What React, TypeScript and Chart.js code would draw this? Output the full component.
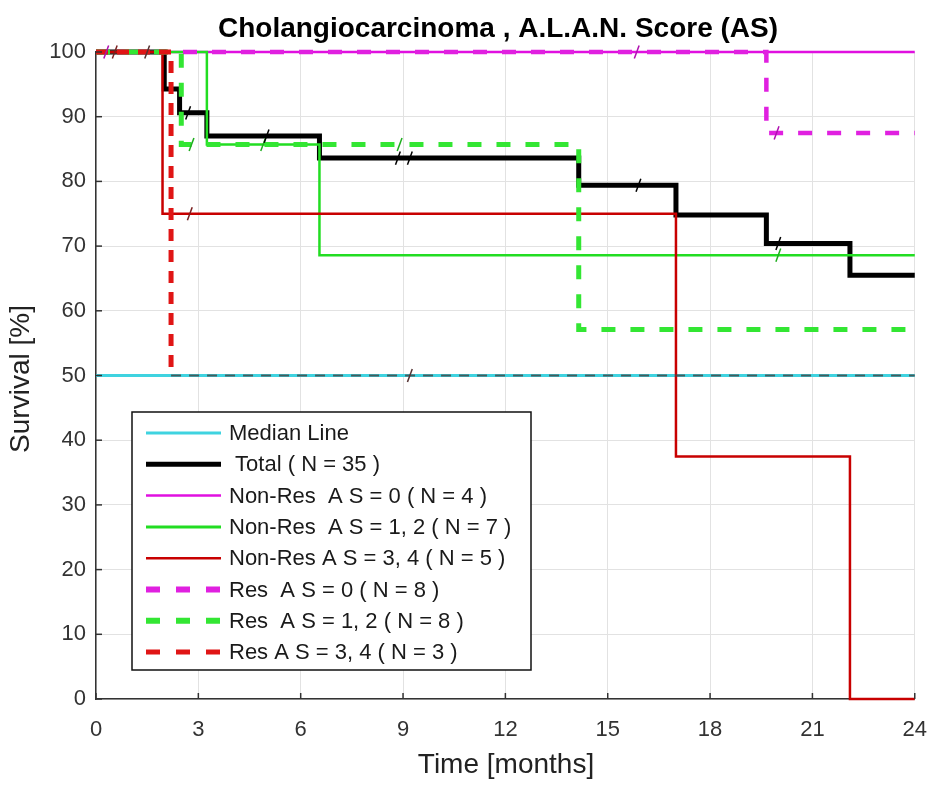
import { useEffect, useRef } from "react"
import { Chart, registerables } from "chart.js"

Chart.register(...registerables)

// Kaplan-Meier step curves: time (months) where survival changes, and the survival (%) from that time on
const medianTimes = [0, 24]
const medianSurv = [50, 50]

const totalTimes = [0, 2.0, 2.45, 3.25, 6.55, 14.15, 17.0, 19.65, 22.1, 24]
const totalSurv = [100, 94.3, 90.6, 87.0, 83.6, 79.4, 74.8, 70.4, 65.5, 65.5]

const nonRes0Times = [0, 24]
const nonRes0Surv = [100, 100]

const nonRes12Times = [0, 3.25, 6.55, 24]
const nonRes12Surv = [100, 85.7, 68.6, 68.6]

const nonRes34Times = [0, 1.95, 17.0, 22.1, 24]
const nonRes34Surv = [100, 75, 37.5, 0, 0]

const res0Times = [0, 19.65, 24]
const res0Surv = [100, 87.5, 87.5]

const res12Times = [0, 2.5, 14.15, 24]
const res12Surv = [100, 85.7, 57.1, 57.1]

const res34Times = [0, 2.2, 24]
const res34Surv = [100, 50, 50]

// censored observations (months)
const totalCensor = [2.7, 5.0, 8.85, 9.2, 15.9, 20.0]
const res0Censor = [0.3, 15.85, 19.95]
const res12Censor = [2.8, 4.9, 8.9]
const nonRes12Censor = [20.0]
const nonRes34Censor = [0.55, 2.75]
const res34Censor = [1.5, 9.2]

const xTicks = [0, 3, 6, 9, 12, 15, 18, 21, 24]
const yTicks = [0, 10, 20, 30, 40, 50, 60, 70, 80, 90, 100]

const legendLabels = [
  "Median Line",
  " Total ( N = 35 )",
  "Non-Res  A S = 0 ( N = 4 )",
  "Non-Res  A S = 1, 2 ( N = 7 )",
  "Non-Res A S = 3, 4 ( N = 5 )",
  "Res  A S = 0 ( N = 8 )",
  "Res  A S = 1, 2 ( N = 8 )",
  "Res A S = 3, 4 ( N = 3 )",
]

const FONT = "'Liberation Sans', Arial, Helvetica, sans-serif"

const toPoints = (t: number[], s: number[]) => t.map((x, i) => ({ x, y: s[i] }))

const survivalAt = (t: number[], s: number[], at: number) => {
  let v = s[0]
  for (let i = 0; i < t.length; i++) if (t[i] <= at) v = s[i]
  return v
}

const censorPoints = (c: number[], t: number[], s: number[]) =>
  c.map((x) => ({ x, y: survivalAt(t, s, x) }))

const styles = [
  { color: "#3fd3e0", width: 3, dash: [] as number[], legendWidth: 3 },
  { color: "#000000", width: 5, dash: [], legendWidth: 5 },
  { color: "#e010e0", width: 2.5, dash: [], legendWidth: 2.5 },
  { color: "#22dd22", width: 2.5, dash: [], legendWidth: 3 },
  { color: "#c80000", width: 2.5, dash: [], legendWidth: 2.5 },
  { color: "#e020e0", width: 4.5, dash: [14, 15], legendWidth: 6 },
  { color: "#33e633", width: 5, dash: [14, 15], legendWidth: 6 },
  { color: "#e01515", width: 5, dash: [12, 9], legendWidth: 5 },
]

export default function App() {
  const chartRef = useRef<HTMLCanvasElement>(null)
  const chartInstance = useRef<Chart | null>(null)

  useEffect(() => {
    document.body.style.margin = "0"
    if (!chartRef.current) return
    if (chartInstance.current) chartInstance.current.destroy()
    const ctx = chartRef.current.getContext("2d")
    if (!ctx) return

    const curves = [
      toPoints(medianTimes, medianSurv),
      toPoints(totalTimes, totalSurv),
      toPoints(nonRes0Times, nonRes0Surv),
      toPoints(nonRes12Times, nonRes12Surv),
      toPoints(nonRes34Times, nonRes34Surv),
      toPoints(res0Times, res0Surv),
      toPoints(res12Times, res12Surv),
      toPoints(res34Times, res34Surv),
    ]
    const stepOrder = [9, 8, 7, 6, 5, 4, 3, 2]

    const isFlat50 = (c: any) => c.p0.parsed.y === 50 && c.p1.parsed.y === 50

    const lineSets: any[] = curves.map((data, i) => ({
      label: legendLabels[i],
      data,
      stepped: "before",
      borderColor: styles[i].color,
      borderWidth: styles[i].width,
      borderDash: styles[i].dash,
      pointRadius: 0,
      fill: false,
      clip: false,
      order: stepOrder[i],
      segment:
        i === 7
          ? {
              // the dashed red and the cyan median overlap: looks dark grey
              borderColor: (c: any) => (isFlat50(c) ? "rgba(70,70,70,0.85)" : undefined),
              borderWidth: (c: any) => (isFlat50(c) ? 2 : undefined),
              borderDash: (c: any) => (isFlat50(c) ? [10, 8] : undefined),
            }
          : undefined,
    }))

    const censorSets: any[] = [
      { c: totalCensor, t: totalTimes, s: totalSurv, color: "#000" },
      { c: res0Censor, t: res0Times, s: res0Surv, color: "#b010b0" },
      { c: res12Censor, t: res12Times, s: res12Surv, color: "#1fae1f" },
      { c: nonRes12Censor, t: nonRes12Times, s: nonRes12Surv, color: "#1fae1f" },
      { c: nonRes34Censor, t: nonRes34Times, s: nonRes34Surv, color: "#7a2020" },
      { c: res34Censor, t: res34Times, s: res34Surv, color: "#553333" },
    ].map((d) => ({
      label: "censor",
      data: censorPoints(d.c, d.t, d.s),
      showLine: false,
      pointStyle: "line",
      rotation: -70,
      pointRadius: 7,
      pointBorderWidth: 1.5,
      pointBorderColor: d.color,
      borderColor: d.color,
      clip: false,
      order: 1,
    }))

    const overlay = {
      id: "overlay",
      afterDraw(chart: any) {
        const c = chart.ctx as CanvasRenderingContext2D
        const area = chart.chartArea
        const xs = chart.scales.x
        const ys = chart.scales.y
        c.save()

        // inward tick marks
        c.strokeStyle = "#333"
        c.lineWidth = 1.5
        xTicks.forEach((v) => {
          const px = xs.getPixelForValue(v)
          c.beginPath()
          c.moveTo(px, area.bottom)
          c.lineTo(px, area.bottom - 6)
          c.stroke()
        })
        yTicks.forEach((v) => {
          const py = ys.getPixelForValue(v)
          c.beginPath()
          c.moveTo(area.left, py)
          c.lineTo(area.left + 6, py)
          c.stroke()
        })

        // title
        c.fillStyle = "#000"
        c.font = `bold 28px ${FONT}`
        c.textAlign = "center"
        c.textBaseline = "middle"
        c.fillText("Cholangiocarcinoma , A.L.A.N. Score (AS)", 498, 29)

        // axis titles
        c.fillStyle = "#222"
        c.font = `28px ${FONT}`
        c.fillText("Time [months]", 506, 765)
        c.save()
        c.translate(21, 379)
        c.rotate(-Math.PI / 2)
        c.fillText("Survival [%]", 0, 0)
        c.restore()

        // legend
        const bx = 132
        const by = 412
        const bw = 399
        const bh = 258
        c.fillStyle = "#fff"
        c.fillRect(bx, by, bw, bh)
        c.strokeStyle = "#111"
        c.lineWidth = 1.5
        c.strokeRect(bx, by, bw, bh)
        c.font = `22px ${FONT}`
        c.textAlign = "left"
        legendLabels.forEach((label, i) => {
          const y = by + 21 + i * 31.3
          const st = styles[i]
          c.strokeStyle = st.color
          c.lineWidth = st.legendWidth
          c.setLineDash(st.dash.length ? [14, 16] : [])
          c.beginPath()
          c.moveTo(146, y)
          c.lineTo(221, y)
          c.stroke()
          c.setLineDash([])
          c.fillStyle = "#1a1a1a"
          c.fillText(label, 229, y + 1)
        })
        c.restore()
      },
    }

    chartInstance.current = new Chart(ctx, {
      type: "line",
      data: { datasets: [...lineSets, ...censorSets] },
      options: {
        responsive: true,
        maintainAspectRatio: false,
        animation: false,
        layout: { padding: { top: 52, right: 29, left: 0, bottom: 0 } },
        plugins: {
          legend: { display: false },
          title: { display: false },
          tooltip: { enabled: false },
        },
        scales: {
          x: {
            type: "linear",
            min: 0,
            max: 24,
            afterFit: (s: any) => {
              s.height = 90
            },
            afterBuildTicks: (s: any) => {
              s.ticks = xTicks.map((value) => ({ value }))
            },
            ticks: {
              padding: 18,
              color: "#333",
              font: { family: FONT, size: 22 },
            },
            grid: { color: "#e2e2e2", lineWidth: 1, drawTicks: false },
            border: { display: true, color: "#333", width: 1.5 },
          },
          y: {
            type: "linear",
            min: 0,
            max: 100,
            afterFit: (s: any) => {
              s.width = 96
            },
            afterBuildTicks: (s: any) => {
              s.ticks = yTicks.map((value) => ({ value }))
            },
            ticks: {
              padding: 10,
              color: "#333",
              font: { family: FONT, size: 22 },
            },
            grid: { color: "#e2e2e2", lineWidth: 1, drawTicks: false },
            border: { display: true, color: "#333", width: 1.5 },
          },
        },
      } as any,
      plugins: [overlay],
    })

    return () => {
      if (chartInstance.current) {
        chartInstance.current.destroy()
        chartInstance.current = null
      }
    }
  }, [])

  return (
    <div style={{ width: 945, height: 789, position: "relative", background: "#fff" }}>
      <canvas ref={chartRef}></canvas>
    </div>
  )
}
